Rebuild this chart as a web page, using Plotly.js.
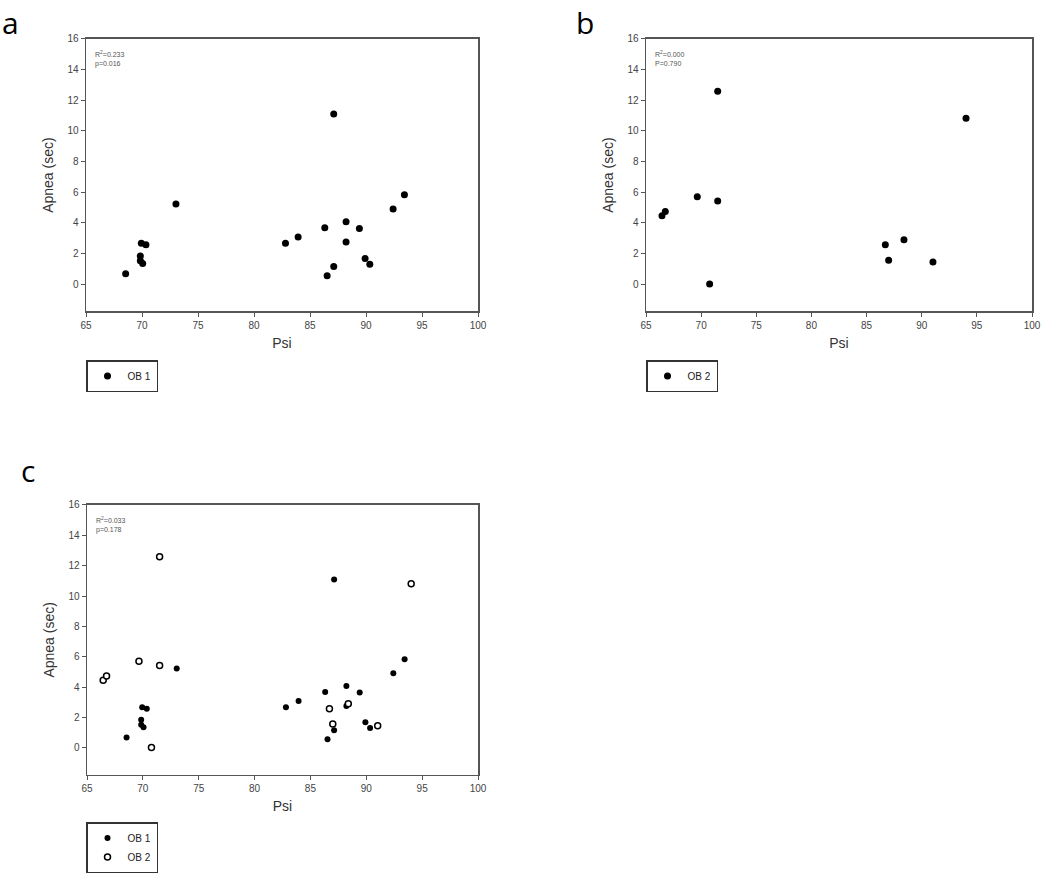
<!DOCTYPE html>
<html>
<head>
<meta charset="utf-8">
<script src="https://cdn.plot.ly/plotly-3.0.1.min.js"></script>
<style>html,body{margin:0;padding:0;background:#fff;}#chart{width:1050px;height:873px;}</style>
</head>
<body>
<div id="chart"></div>
<script>
// OB 1 data (panel a)
const ob1Psi   = [68.54, 69.94, 70.35, 69.85, 69.85, 70.06, 73.03, 82.81, 83.94, 86.32, 86.53, 87.12, 87.12, 88.22, 88.22, 89.41, 89.92, 90.34, 92.42, 93.43];
const ob1Apnea = [0.69, 2.67, 2.58, 1.85, 1.53, 1.36, 5.23, 2.67, 3.08, 3.68, 0.56, 11.09, 1.16, 4.07, 2.76, 3.64, 1.68, 1.31, 4.91, 5.84];
// OB 2 data (panel b)
const ob2Psi   = [66.45, 66.75, 69.65, 71.50, 71.50, 70.77, 86.70, 87.00, 88.39, 91.02, 94.02];
const ob2Apnea = [4.46, 4.74, 5.71, 12.58, 5.43, 0.02, 2.58, 1.57, 2.91, 1.46, 10.81];
// Axis ticks
const xTicks = [65, 70, 75, 80, 85, 90, 95, 100];
const yTicks = [0, 2, 4, 6, 8, 10, 12, 14, 16];
// Statistics text
const statsA = ["R<sup>2</sup>=0.233", "p=0.016"];
const statsB = ["R<sup>2</sup>=0.000", "P=0.790"];
const statsC = ["R<sup>2</sup>=0.033", "p=0.178"];

const font = "Liberation Sans, Arial, sans-serif";
function xax(domain, anchor){
  return {domain: domain, anchor: anchor, range: [65, 100], tickvals: xTicks, ticks: "outside", ticklen: 4,
    tickcolor: "#555", showline: true, linecolor: "#555", linewidth: 1.5, mirror: true, showgrid: false,
    zeroline: false, tickfont: {family: font, size: 10, color: "#444"},
    title: {text: "Psi", font: {family: font, size: 14, color: "#333"}, standoff: 8}};
}
function yax(domain, anchor){
  return {domain: domain, anchor: anchor, range: [-1.77, 16], tickvals: yTicks, ticks: "outside", ticklen: 4,
    tickcolor: "#555", showline: true, linecolor: "#555", linewidth: 1.5, mirror: true, showgrid: false,
    zeroline: false, tickfont: {family: font, size: 10, color: "#444"},
    title: {text: "Apnea (sec)", font: {family: font, size: 14, color: "#333"}, standoff: 10}};
}

const W = 1050, H = 873;
const yTop = [1 - 314/H, 1 - 39/H];
const yBot = [1 - 781/H, 1 - 509/H];

const traces = [
  {x: ob1Psi, y: ob1Apnea, name: "OB 1", mode: "markers", type: "scatter", xaxis: "x", yaxis: "y", legend: "legend",
   marker: {color: "#000", size: 7}},
  {x: ob2Psi, y: ob2Apnea, name: "OB 2", mode: "markers", type: "scatter", xaxis: "x2", yaxis: "y2", legend: "legend2",
   marker: {color: "#000", size: 7}},
  {x: ob1Psi, y: ob1Apnea, name: "OB 1", mode: "markers", type: "scatter", xaxis: "x3", yaxis: "y3", legend: "legend3",
   marker: {color: "#000", size: 6, symbol: "circle"}},
  {x: ob2Psi, y: ob2Apnea, name: "OB 2", mode: "markers", type: "scatter", xaxis: "x3", yaxis: "y3", legend: "legend3",
   marker: {color: "#fff", size: 6, symbol: "circle", line: {color: "#000", width: 1.5}}}
];

function statAnn(xref, yref, lines){
  return {xref: xref + " domain", yref: yref + " domain", x: 0.018, y: 0.965, xanchor: "left", yanchor: "top",
    text: lines.join("<br>"), showarrow: false, align: "left", font: {family: font, size: 7, color: "#555"}};
}
function legendBox(x, y){
  return {x: x, y: y, xanchor: "left", yanchor: "top", bordercolor: "#333", borderwidth: 1.5, bgcolor: "#fff",
    font: {family: font, size: 10, color: "#222"}, itemwidth: 30, tracegroupgap: 0};
}

const layout = {
  width: W, height: H, margin: {l: 0, r: 0, t: 0, b: 0}, paper_bgcolor: "#fff", plot_bgcolor: "#fff",
  showlegend: true,
  xaxis: xax([86/W, 478/W], "y"), yaxis: yax(yTop, "x"),
  xaxis2: xax([646/W, 1032/W], "y2"), yaxis2: yax(yTop, "x2"),
  xaxis3: xax([87/W, 478/W], "y3"), yaxis3: yax(yBot, "x3"),
  legend: legendBox(86/W, 1 - 363/H),
  legend2: legendBox(646/W, 1 - 363/H),
  legend3: legendBox(86/W, 1 - 829/H),
  annotations: [
    statAnn("x", "y", statsA), statAnn("x2", "y2", statsB), statAnn("x3", "y3", statsC),
    {xref: "paper", yref: "paper", x: 0/W, y: 1, xanchor: "left", yanchor: "top", text: "a", showarrow: false,
     font: {family: "Open Sans, sans-serif", size: 30, color: "#000"}},
    {xref: "paper", yref: "paper", x: 574/W, y: 1, xanchor: "left", yanchor: "top", text: "b", showarrow: false,
     font: {family: "Open Sans, sans-serif", size: 30, color: "#000"}},
    {xref: "paper", yref: "paper", x: 19/W, y: 1 - 452/H, xanchor: "left", yanchor: "top", text: "c", showarrow: false,
     font: {family: "Open Sans, sans-serif", size: 30, color: "#000"}}
  ]
};

Plotly.newPlot("chart", traces, layout, {displayModeBar: false, staticPlot: true});
</script>
</body>
</html>
